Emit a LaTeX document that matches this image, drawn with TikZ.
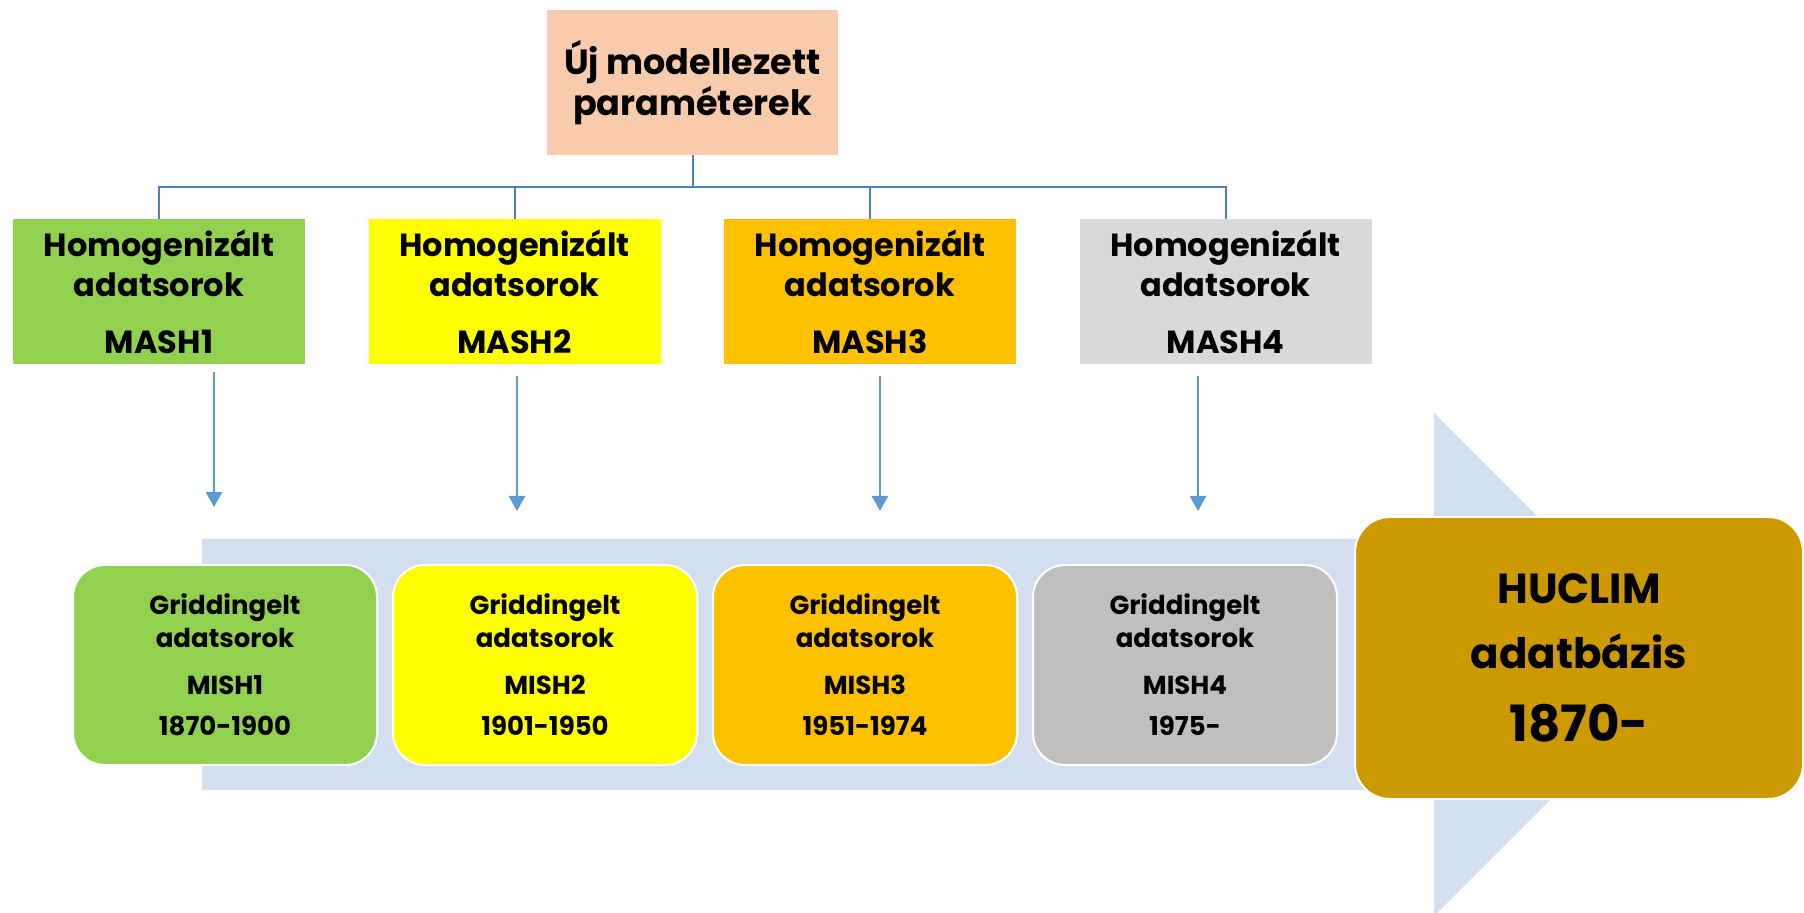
\documentclass[tikz,border=0pt]{standalone}
\usepackage{fontspec}
\setmainfont{Poppins}
\usetikzlibrary{arrows.meta}
\definecolor{peach}{HTML}{F8CBAD}
\definecolor{cgreen}{HTML}{92D050}
\definecolor{cyellow}{HTML}{FFFF00}
\definecolor{corange}{HTML}{FFC000}
\definecolor{cgreyl}{HTML}{D9D9D9}
\definecolor{cgreyd}{HTML}{BFBFBF}
\definecolor{cgold}{HTML}{CC9900}
\definecolor{band}{HTML}{D3DEEF}
\definecolor{treeline}{HTML}{4F81BD}
\definecolor{arrowblue}{HTML}{5B9BD5}
\begin{document}
\begin{tikzpicture}[x=0.5pt,y=-0.5pt,
  topbox/.style={minimum width=145.5pt, minimum height=72.5pt, inner sep=0pt, align=center, fill=peach,
    font=\fontsize{17.5}{19}\selectfont\bfseries},
  mashbox/.style={minimum width=146pt, minimum height=72.5pt, inner sep=0pt, align=center,
    font=\fontsize{16}{20}\selectfont\bfseries},
  mishbox/.style={minimum width=152pt, minimum height=100pt, inner sep=0pt, align=center,
    rounded corners=16pt, draw=white, line width=1pt,
    font=\fontsize{13}{16.5}\selectfont\bfseries},
  hubox/.style={minimum width=224pt, minimum height=141pt, inner sep=0pt, align=center,
    rounded corners=17.5pt, draw=white, line width=1pt, fill=cgold,
    font=\fontsize{21}{32.5}\selectfont\bfseries},
  tree/.style={draw=treeline, line width=1pt},
  downarrow/.style={draw=arrowblue, line width=1.3pt, -{Triangle[length=7.5pt,width=8pt]}}
]
\useasboundingbox (0,0) rectangle (1804,913);
\clip (0,0) rectangle (1804,913);

% big light-blue arrow band
\fill[band] (202,539) -- (1434,539) -- (1434,413) -- (1685.5,664.5) -- (1434,916) -- (1434,790) -- (202,790) -- cycle;

% top box
\node[topbox] (top) at (692.5,82.5) {Új modellezett\\paraméterek};

% MASH boxes
\node[mashbox, fill=cgreen]  (mash1) at (159,291.5)   {Homogenizált\\adatsorok\\[8.5pt]MASH1};
\node[mashbox, fill=cyellow] (mash2) at (514.5,291.5) {Homogenizált\\adatsorok\\[8.5pt]MASH2};
\node[mashbox, fill=corange] (mash3) at (870,291.5)   {Homogenizált\\adatsorok\\[8.5pt]MASH3};
\node[mashbox, fill=cgreyl]  (mash4) at (1225.5,291.5){Homogenizált\\adatsorok\\[8.5pt]MASH4};

% tree connectors
\coordinate (bus) at (692.5,187);
\draw[tree] (top.south) -- (bus);
\foreach \i in {1,2,3,4}{
  \draw[tree] (bus) -| (mash\i.north);
}

% MISH boxes
\node[mishbox, fill=cgreen]  (mish1) at (225,665)  {Griddingelt\\adatsorok\\[7pt]MISH1\\[4pt]1870-1900};
\node[mishbox, fill=cyellow] (mish2) at (545,665)  {Griddingelt\\adatsorok\\[7pt]MISH2\\[4pt]1901-1950};
\node[mishbox, fill=corange] (mish3) at (865,665)  {Griddingelt\\adatsorok\\[7pt]MISH3\\[4pt]1951-1974};
\node[mishbox, fill=cgreyd]  (mish4) at (1185,665) {Griddingelt\\adatsorok\\[7pt]MISH4\\[4pt]1975-};

% HUCLIM
\node[hubox] (huclim) at (1579,658) {HUCLIM\\adatbázis\\[4pt]{\fontsize{25}{32.5}\selectfont 1870-}};

% down arrows
\coordinate (a1s) at (214,372);  \coordinate (a1e) at (214,507);
\coordinate (a2s) at (517,376);  \coordinate (a2e) at (517,511);
\coordinate (a3s) at (880,376);  \coordinate (a3e) at (880,511);
\coordinate (a4s) at (1198,376); \coordinate (a4e) at (1198,511);
\foreach \i in {1,2,3,4}{
  \draw[downarrow] (a\i s) -- (a\i e);
}
\end{tikzpicture}
\end{document}
